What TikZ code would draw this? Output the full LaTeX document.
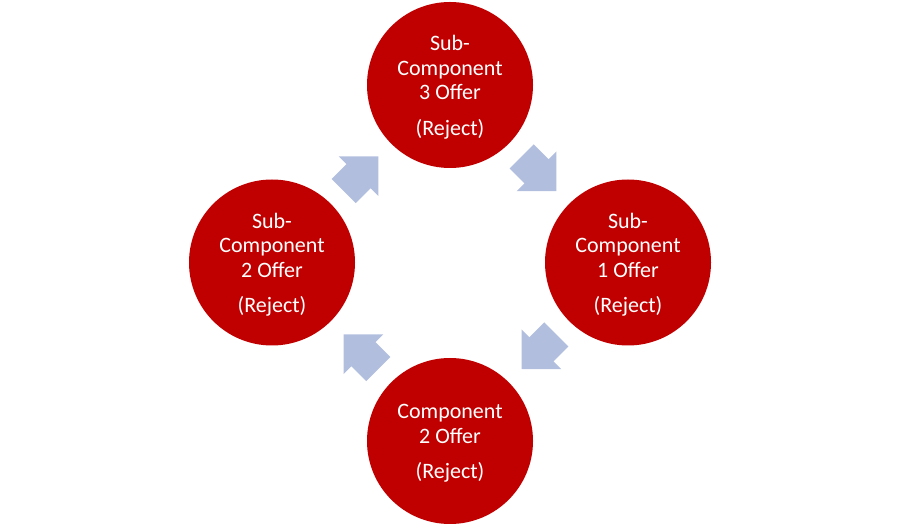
\documentclass[tikz,border=0pt]{standalone}
\usepackage{fontspec}
\setmainfont{Carlito}
\usetikzlibrary{calc}
\definecolor{offerred}{RGB}{192,0,0}
\definecolor{arrowblue}{RGB}{177,190,222}
\newcommand{\toppad}{\rule{0pt}{19.5pt}}
\begin{document}
\begin{tikzpicture}[x=1pt,y=1pt,
  offer/.style={circle, fill=offerred, draw=none, minimum size=166pt, inner sep=0pt,
    text=white, align=center, font=\fontsize{22}{24.5}\selectfont},
  cyclearrow/.style={fill=arrowblue}]
\useasboundingbox (0,0) rectangle (899,527);
\node[offer] (top) at (450,442) {\toppad Sub-\\Component\\3 Offer\\[11pt](Reject)};
\node[offer] (right) at (628,264.5) {\toppad Sub-\\Component\\1 Offer\\[11pt](Reject)};
\node[offer] (left) at (272,264.5) {\toppad Sub-\\Component\\2 Offer\\[11pt](Reject)};
\node[offer] (bottom) at (450,86) {\toppad Component\\2 Offer\\[11pt](Reject)};
\def\blockarrow{(-24.5,-17) -- (-3.5,-17) -- (-3.5,-28) -- (24.5,0) -- (-3.5,28) -- (-3.5,17) -- (-24.5,17) -- cycle}
\fill[cyclearrow, shift={($(left)!0.5!(top)$)}, rotate=45] \blockarrow;
\fill[cyclearrow, shift={($(top)!0.5!(right)$)}, rotate=-45] \blockarrow;
\fill[cyclearrow, shift={($(right)!0.5!(bottom)$)}, rotate=-135] \blockarrow;
\fill[cyclearrow, shift={($(bottom)!0.5!(left)$)}, rotate=135] \blockarrow;
\end{tikzpicture}
\end{document}
